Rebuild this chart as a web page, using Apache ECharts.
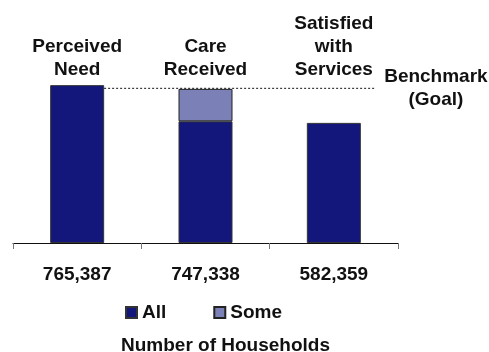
<!DOCTYPE html>
<html>
<head>
<meta charset="utf-8">
<style>
  html, body { margin: 0; padding: 0; background: #fff; }
  #chart { width: 489px; height: 352px; }
</style>
<script src="https://cdn.jsdelivr.net/npm/echarts@6/dist/echarts.min.js"></script>
</head>
<body>
<div id="chart"></div>
<script>
// Household counts at each stage of care
const categories = ['Perceived\nNeed', 'Care\nReceived', 'Satisfied\nwith\nServices'];
const allValues = [765387, 590000, 582359];
const someValues = [null, 157338, null];
const totals = [765387, 747338, 582359];
const legendNames = ['All', 'Some'];
const benchmarkValue = 750000;
const benchmarkSpan = [0.71, 2.82];   // position along the category band, in category widths
const benchmarkLabel = 'Benchmark\n(Goal)';
const axisTitle = 'Number of Households';

const NAVY = '#13167a';
const LAVENDER = '#7b80b6';
const FONT = '"Liberation Sans", Arial, sans-serif';
const FS = 19;

const chart = echarts.init(document.getElementById('chart'), null, { renderer: 'canvas' });

chart.setOption({
  animation: false,
  backgroundColor: '#fff',
  textStyle: { fontFamily: FONT },
  title: {
    text: axisTitle,
    left: 121,
    top: 336,
    padding: 0,
    textStyle: { fontFamily: FONT, fontSize: FS, fontWeight: 'bold', color: '#111' }
  },
  legend: {
    data: legendNames,
    left: 125,
    top: 303,
    padding: 0,
    itemWidth: 11,
    itemHeight: 11,
    itemGap: 47,
    icon: 'rect',
    textStyle: { fontFamily: FONT, fontSize: FS, fontWeight: 'bold', color: '#111' }
  },
  grid: { left: 13, right: 91, top: 78, height: 165 },
  xAxis: [
    {
      type: 'category',
      data: categories,
      position: 'bottom',
      boundaryGap: true,
      axisLine: { lineStyle: { color: '#111', width: 1 } },
      axisTick: { show: true, length: 6, lineStyle: { color: '#777' } },
      axisLabel: {
        margin: 22,
        fontFamily: FONT, fontSize: FS, fontWeight: 'bold', color: '#111',
        formatter: (v, i) => totals[i].toLocaleString('en-US')
      }
    },
    {
      type: 'category',
      data: categories,
      position: 'top',
      axisLine: { show: false },
      axisTick: { show: false },
      axisLabel: {
        margin: -3,
        interval: 0,
        fontFamily: FONT, fontSize: FS, fontWeight: 'bold', color: '#111',
        lineHeight: 23
      }
    },
    {
      type: 'value',
      show: false,
      min: 0,
      max: 3
    }
  ],
  yAxis: {
    type: 'value',
    show: false,
    min: 0,
    max: 800000,
    splitLine: { show: false }
  },
  series: [
    {
      name: 'All',
      type: 'bar',
      stack: 'households',
      xAxisIndex: 0,
      barWidth: 54,
      data: allValues,
      itemStyle: { color: NAVY, borderColor: '#333', borderWidth: 1 }
    },
    {
      name: 'Some',
      type: 'bar',
      stack: 'households',
      xAxisIndex: 0,
      barWidth: 54,
      data: someValues,
      itemStyle: { color: LAVENDER, borderColor: '#222', borderWidth: 1 }
    },
    {
      name: 'Benchmark',
      type: 'line',
      xAxisIndex: 2,
      yAxisIndex: 0,
      z: 1,
      symbol: 'none',
      data: benchmarkSpan.map(x => [x, benchmarkValue]),
      lineStyle: { color: '#111', width: 1, type: [2, 2] },
      endLabel: {
        show: true,
        formatter: benchmarkLabel,
        distance: 61,
        align: 'center',
        verticalAlign: 'middle',
        fontFamily: FONT, fontSize: FS, fontWeight: 'bold', color: '#111',
        lineHeight: 23
      }
    }
  ]
});
</script>
</body>
</html>
